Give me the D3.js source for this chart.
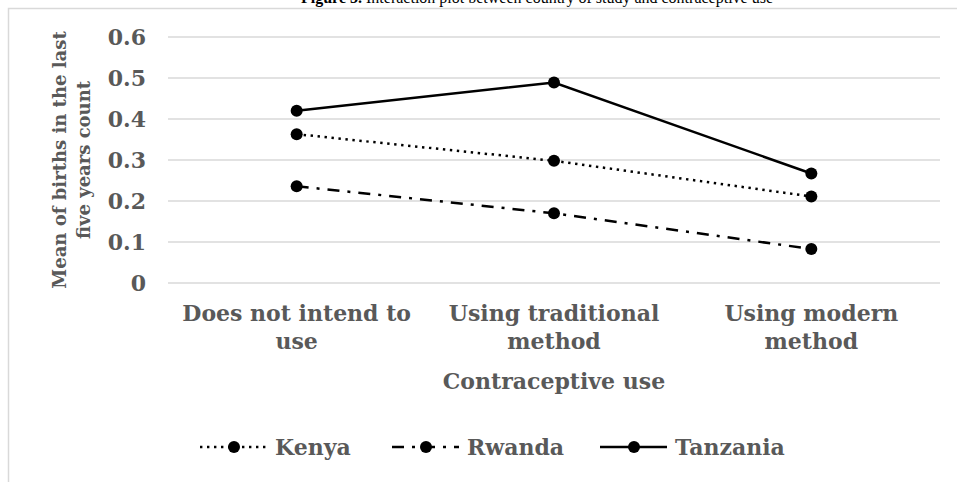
<!DOCTYPE html>
<html>
<head>
<meta charset="utf-8">
<script src="https://cdn.jsdelivr.net/npm/d3@7/dist/d3.min.js"></script>
<style>
  html, body { margin: 0; padding: 0; background: #fff; }
  svg { display: block; }
  .lbl { font-family: "DejaVu Serif", serif; font-weight: bold; fill: #595959; }
</style>
</head>
<body>
<svg id="chart" width="957" height="482"></svg>
<script>
// Contraceptive-use categories (x axis) and mean births per country
const categories = [["Does not intend to", "use"], ["Using traditional", "method"], ["Using modern", "method"]];
const countries = ["Kenya", "Rwanda", "Tanzania"];
const kenya = [0.363, 0.298, 0.211];
const rwanda = [0.236, 0.170, 0.083];
const tanzania = [0.420, 0.489, 0.267];
const yTicks = [0, 0.1, 0.2, 0.3, 0.4, 0.5, 0.6];
const yTickLabels = ["0", "0.1", "0.2", "0.3", "0.4", "0.5", "0.6"];

const seriesValues = [kenya, rwanda, tanzania];
const dashes = ["2.4,4.6", "12,8,3,8", null];

const svg = d3.select("#chart");
const W = 957, H = 482;
svg.append("rect").attr("width", W).attr("height", H).attr("fill", "#fff");

// Caption above the chart frame
const cap = svg.append("text")
  .attr("x", 537).attr("y", 3)
  .attr("text-anchor", "middle")
  .style("font-family", "'Liberation Serif', 'Times New Roman', serif")
  .style("font-size", "16px").attr("fill", "#000");
cap.append("tspan").style("font-weight", "bold").text("Figure 3.");
cap.append("tspan").text(" Interaction plot between country of study and contraceptive use");

// Chart frame (top and left edges)
svg.append("path")
  .attr("d", `M8.5,${H} L8.5,8.5 L${W},8.5`)
  .attr("fill", "none").attr("stroke", "#d9d9d9").attr("stroke-width", 1.5);

const catKeys = categories.map(c => c.join(" "));
const x = d3.scaleBand().domain(catKeys).range([168, 940]).padding(0);
const y = d3.scaleLinear().domain([0, 0.6]).range([283, 37]);
const cx = i => x(catKeys[i]) + x.bandwidth() / 2;

// Horizontal gridlines
svg.append("g").selectAll("line").data(yTicks).join("line")
  .attr("x1", 168).attr("x2", 940)
  .attr("y1", d => y(d)).attr("y2", d => y(d))
  .attr("stroke", "#d9d9d9").attr("stroke-width", 1.5);

// Y axis tick labels
const yAxis = d3.axisLeft(y).tickValues(yTicks)
  .tickFormat((d, i) => yTickLabels[i]).tickSize(0).tickPadding(0);
const gy = svg.append("g").attr("transform", "translate(146,0)").call(yAxis);
gy.select(".domain").remove();
gy.selectAll("text").attr("class", "lbl").style("font-size", "22px").attr("dy", "0.36em");

// X axis category labels (two lines each)
const gx = svg.append("g");
categories.forEach((lines, i) => {
  const t = gx.append("text").attr("class", "lbl")
    .attr("text-anchor", "middle").style("font-size", "22px")
    .attr("x", cx(i)).attr("y", 321);
  lines.forEach((s, j) => t.append("tspan")
    .attr("x", cx(i))
    .attr("dy", j === 0 ? 0 : 28).text(s));
});

// Axis titles
svg.append("text").attr("class", "lbl").attr("text-anchor", "middle")
  .style("font-size", "22px").attr("x", (168 + 940) / 2).attr("y", 389)
  .text("Contraceptive use");

const yt = svg.append("text").attr("class", "lbl").attr("text-anchor", "middle")
  .style("font-size", "18px")
  .attr("transform", `translate(0,${(37 + 283) / 2}) rotate(-90)`);
yt.append("tspan").attr("x", 0).attr("y", 66).text("Mean of births in the last");
yt.append("tspan").attr("x", 0).attr("y", 90).text("five years count");

// Series lines and markers
const line = d3.line()
  .x((d, i) => cx(i))
  .y(d => y(d));

seriesValues.forEach((vals, s) => {
  svg.append("path").datum(vals)
    .attr("d", line)
    .attr("fill", "none").attr("stroke", "#000")
    .attr("stroke-width", 2.5)
    .attr("stroke-dasharray", dashes[s]);
  svg.append("g").selectAll("circle").data(vals).join("circle")
    .attr("cx", (d, i) => cx(i))
    .attr("cy", d => y(d))
    .attr("r", 6).attr("fill", "#000");
});

// Legend
const legendX = [200, 392, 600];
const lg = svg.append("g");
countries.forEach((name, s) => {
  const g = lg.append("g").attr("transform", `translate(${legendX[s]},447)`);
  g.append("line").attr("x1", 0).attr("x2", 67).attr("y1", 0).attr("y2", 0)
    .attr("stroke", "#000").attr("stroke-width", 2.5)
    .attr("stroke-dasharray", dashes[s]);
  g.append("circle").attr("cx", 34).attr("cy", 0).attr("r", 6).attr("fill", "#000");
  g.append("text").attr("class", "lbl").style("font-size", "22px")
    .attr("x", 75).attr("y", 0).attr("dy", "0.35em").text(name);
});
</script>
</body>
</html>
